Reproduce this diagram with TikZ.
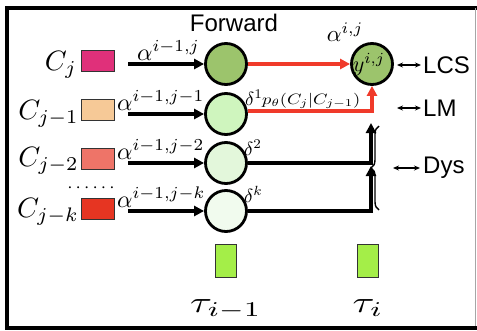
\documentclass[tikz,border=0pt]{standalone}
\usepackage{fontspec}
\newfontfamily\labsans{Liberation Sans}
\usetikzlibrary{arrows.meta,decorations.pathreplacing}
\newcommand{\sclmath}[3]{\scalebox{#1}[#2]{$#3$}}
\definecolor{cpink}{HTML}{E0307A}
\definecolor{cpeach}{HTML}{F6C997}
\definecolor{csalmon}{HTML}{EE7468}
\definecolor{cred}{HTML}{E63522}
\definecolor{gdark}{HTML}{9CC46C}
\definecolor{glight1}{HTML}{CFF5BE}
\definecolor{glight2}{HTML}{E3F7DB}
\definecolor{glight3}{HTML}{F1FBEE}
\definecolor{lime}{HTML}{A4EE48}
\definecolor{arred}{HTML}{F03A2A}
\tikzset{
  cbox/.style={draw=black!80, line width=1.4pt, minimum width=33pt, minimum height=21pt, inner sep=0pt},
  state/.style={circle, draw=black, line width=2.8pt, minimum size=41pt, inner sep=0pt},
  tbox/.style={draw=black!80, line width=1.4pt, fill=lime, minimum width=21pt, minimum height=33pt, inner sep=0pt},
  blk/.style={line width=3.6pt, -{Triangle[length=10pt,width=10pt]}},
  redarr/.style={line width=3.6pt, color=arred, -{Triangle[length=10pt,width=10pt]}},
  dbl/.style={line width=1.2pt, {Stealth[length=6pt,width=5pt]}-{Stealth[length=6pt,width=5pt]}},
  sanslab/.style={font=\labsans\fontsize{24}{24}\selectfont, inner sep=0pt},
  clab/.style={inner sep=0pt, anchor=base east},
  alab/.style={inner sep=0pt, anchor=base west},
  dlab/.style={inner sep=0pt, anchor=base west},
}
\begin{document}
\begin{tikzpicture}[x=1pt,y=-1pt]
\useasboundingbox (0,0) rectangle (477,330);
% frame
\draw[line width=4pt] (5,8) -- (477,8);
\draw[line width=4pt] (7,6) -- (7,330);
\draw[line width=4pt] (5,327.5) -- (477,327.5);
\draw[line width=0.8pt, black!35] (475,8) -- (475,326);

% C boxes
\node[cbox, fill=cpink]   (b1) at (98,61) {};
\node[cbox, fill=cpeach]  (b2) at (98,110) {};
\node[cbox, fill=csalmon] (b3) at (98,159) {};
\node[cbox, fill=cred]    (b4) at (98,209) {};
\node[clab] (c1) at (77,70) {\sclmath{2.8}{2.8}{C_j}};
\node[clab] (c2) at (79,119) {\sclmath{2.8}{2.8}{C_{j-1}}};
\node[clab] (c3) at (79,166) {\sclmath{2.8}{2.8}{C_{j-2}}};
\node[clab] (c4) at (79,217) {\sclmath{2.8}{2.8}{C_{j-k}}};
\node[inner sep=0pt] (dots) at (91,188) {\sclmath{1.9}{1.9}{\cdots\cdots}};

% state circles
\node[state, fill=gdark]   (s1) at (226,64) {};
\node[state, fill=glight1] (s2) at (226,114) {};
\node[state, fill=glight2] (s3) at (226,163) {};
\node[state, fill=glight3] (s4) at (226,211) {};
\node[state, fill=gdark]   (t)  at (372,64) {};
\node[inner sep=0pt] (yl) at (369,65) {\sclmath{2.2}{2.2}{y^{i,j}}};

% input arrows
\coordinate (a1) at (128,64);
\coordinate (a2) at (128,114);
\coordinate (a3) at (128,163);
\coordinate (a4) at (128,211);
\draw[blk] (a1) -- (s1.west);
\draw[blk] (a2) -- (s2.west);
\draw[blk] (a3) -- (s3.west);
\draw[blk] (a4) -- (s4.west);
\node[alab] (l1) at (137,60) {\sclmath{2.4}{2.4}{\alpha^{i-1,j}}};
\node[alab] (l2) at (117,110) {\sclmath{2.4}{2.4}{\alpha^{i-1,j-1}}};
\node[alab] (l3) at (117,159) {\sclmath{2.4}{2.4}{\alpha^{i-1,j-2}}};
\node[alab] (l4) at (117,207) {\sclmath{2.4}{2.4}{\alpha^{i-1,j-k}}};

% Forward & alpha^{i,j}
\node[sanslab] (fw) at (234,23) {Forward};
\node[inner sep=0pt] (aij) at (345,32) {\sclmath{2.3}{2.3}{\alpha^{i,j}}};

% transitions
\draw[redarr] (s1.east) -- (t.west);
\draw[redarr] (s2.east) ++(0,-3) coordinate (r2) -- (r2 -| t.south) -- (t.south);
\coordinate (up3) at (371,123);
\coordinate (up4) at (371,166);
\draw[blk] (s3.east) -- (s3.east -| up3) -- (up3);
\draw[blk] (s4.east) -- (s4.east -| up4) -- (up4);
\node[dlab] (d1) at (245,105) {\sclmath{1.9}{1.9}{\delta^1}};
\node[dlab] (pth) at (262,104) {\sclmath{1.85}{1.5}{p_\theta(C_j|C_{j-1})}};
\node[dlab] (d2) at (244,155) {\sclmath{1.9}{1.9}{\delta^2}};
\node[dlab] (dk) at (244,202) {\sclmath{1.9}{1.9}{\delta^k}};

% brace
\coordinate (br1) at (379,126);
\coordinate (br2) at (379,210);
\draw[line width=1.4pt, decorate, decoration={brace, amplitude=8pt}] (br2) -- (br1);

% right labels
\coordinate (la1) at (397,65);
\coordinate (la2) at (421,65);
\coordinate (lb1) at (397,108);
\coordinate (lb2) at (421,108);
\coordinate (lc1) at (393,168);
\coordinate (lc2) at (420,168);
\draw[dbl] (la1) -- (la2);
\draw[dbl] (lb1) -- (lb2);
\draw[dbl] (lc1) -- (lc2);
\node[sanslab, anchor=west] (lcs) at (423,65) {LCS};
\node[sanslab, anchor=west] (lm) at (423,108) {LM};
\node[sanslab, anchor=west] (dys) at (423,168) {Dys};

% tau
\node[tbox] (tau1) at (226,261) {};
\node[tbox] (tau2) at (368,261) {};
\node[inner sep=0pt, anchor=base] (tl1) at (226,312) {\sclmath{4.0}{3.0}{\tau_{i-1}}};
\node[inner sep=0pt, anchor=base] (tl2) at (368,312) {\sclmath{4.0}{3.0}{\tau_{i}}};
\end{tikzpicture}
\end{document}
